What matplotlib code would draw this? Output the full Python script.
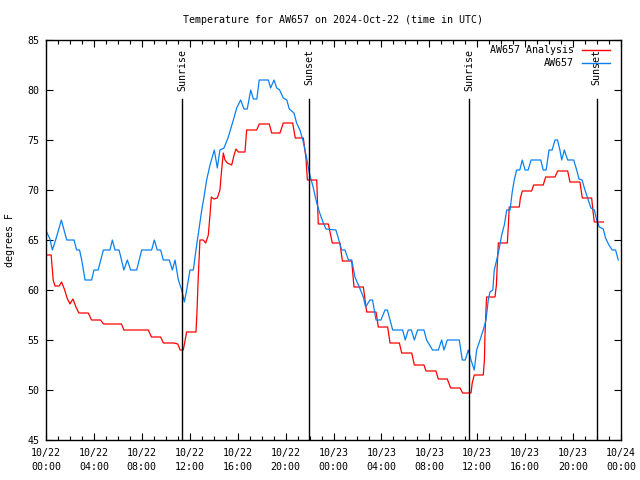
import matplotlib
matplotlib.use("Agg")
import matplotlib.pyplot as plt
from matplotlib.lines import Line2D
from matplotlib.ticker import MultipleLocator

# hours since 2024-10-22 00:00 UTC, temperature (F)
obs_hours = [0.0, 0.05, 0.33, 0.53, 0.83, 1.28, 1.73, 2.34, 2.56, 2.8, 2.98, 3.26, 3.81, 4.0, 4.35, 4.79, 5.34,
             5.54, 5.76, 6.1, 6.5, 6.79, 7.07, 7.57, 7.99, 8.82, 9.04, 9.29, 9.57, 9.79, 10.29, 10.55, 10.77,
             11.05, 11.33, 11.55, 11.74, 12.02, 12.3, 12.52, 12.8, 13.0, 13.19, 13.41, 13.69, 14.05, 14.3,
             14.52, 14.86, 15.22, 15.64, 15.92, 16.25, 16.53, 16.8, 17.09, 17.31, 17.6, 17.8, 18.56, 18.75,
             19.03, 19.26, 19.5, 19.81, 20.1, 20.31, 20.7, 20.92, 21.2, 21.48, 21.76, 21.98, 22.3, 22.6,
             22.85, 23.15, 23.37, 24.2, 24.4, 24.68, 24.96, 25.24, 25.52, 25.79, 26.15, 26.49, 26.68, 27.04,
             27.26, 27.55, 27.96, 28.3, 28.5, 28.94, 29.77, 29.99, 30.24, 30.5, 30.75, 31.02, 31.55, 31.77,
             32.27, 32.75, 33.03, 33.22, 33.5, 34.5, 34.75, 35.0, 35.25, 35.48, 35.75, 35.95, 36.23, 36.5,
             36.73, 36.92, 37.06, 37.3, 37.42, 37.62, 37.81, 38.04, 38.26, 38.46, 38.74, 38.92, 39.09, 39.29,
             39.55, 39.76, 39.99, 40.25, 40.49, 41.3, 41.51, 41.75, 41.99, 42.25, 42.49, 42.7, 42.9, 43.05,
             43.27, 43.55, 44.05, 44.3, 44.49, 44.75, 44.99, 45.21, 45.49, 45.77, 45.97, 46.19, 46.52, 46.71,
             46.99, 47.27, 47.55, 47.77]
obs_temps = [66.0, 65.8, 65.1, 64.0, 65.1, 67.0, 65.0, 65.0, 64.0, 64.0, 63.0, 61.0, 61.0, 62.0, 62.0, 64.0, 64.0,
             65.0, 64.0, 64.0, 62.0, 63.0, 62.0, 62.0, 64.0, 64.0, 65.0, 64.0, 64.0, 63.0, 63.0, 62.0, 63.0,
             61.0, 60.0, 58.8, 60.0, 62.0, 62.0, 64.0, 66.3, 68.0, 69.3, 71.0, 72.5, 74.0, 72.2,
             74.0, 74.2, 75.3, 77.0, 78.2, 79.0, 78.1, 78.1, 80.0, 79.1, 79.1, 81.0, 81.0, 80.2,
             81.0, 80.2, 80.0, 79.2, 79.0, 78.1, 77.7, 76.7, 76.0, 74.8, 73.2, 71.7, 70.3, 68.7,
             67.7, 66.7, 66.1, 66.0, 65.2, 64.0, 64.0, 63.0, 63.0, 61.3, 60.3, 59.3, 58.3, 59.0,
             59.0, 57.0, 57.0, 58.0, 58.0, 56.0, 56.0, 55.0, 56.0, 56.0, 55.0, 56.0, 56.0, 55.0,
             54.0, 54.0, 55.0, 54.0, 55.0, 55.0, 53.0, 53.0, 54.0, 53.0, 52.0, 54.0, 55.0, 56.0,
             57.0, 59.0, 59.8, 60.0, 62.0, 63.0, 64.0, 65.5, 66.5, 68.0, 68.0, 69.8, 71.0, 72.0,
             72.0, 73.0, 72.0, 72.0, 73.0, 73.0, 72.0, 72.0, 74.0, 74.0, 75.0, 75.0, 74.0, 73.0,
             74.0, 73.0, 73.0, 72.0, 71.1, 71.0, 70.0, 69.2, 68.2, 68.0, 67.0, 66.3, 66.1, 65.2,
             64.5, 64.0, 64.0, 63.0]

ana_hours = [0, 0.43, 0.6, 0.75, 1.1, 1.3, 1.56, 1.76, 2.0, 2.25, 2.5, 2.74, 3.53, 3.8, 4.56, 4.8, 6.3, 6.5,
             8.54, 8.8, 9.57, 9.8, 10.68, 11.0, 11.2, 11.46, 11.74, 12.52, 12.6, 12.69, 12.85, 13.13, 13.33,
             13.55, 13.69, 13.8, 14.02, 14.3, 14.52, 14.66, 14.8, 14.94, 15.14, 15.5, 15.7, 15.86, 16.05,
             16.61, 16.75, 17.59, 17.8, 18.64, 18.84, 19.53, 19.81, 20.59, 20.81, 21.48, 21.7, 21.82, 22.6,
             22.73, 23.57, 23.9, 24.54, 24.74, 25.52, 25.71, 26.49, 26.77, 27.55, 27.74, 28.52, 28.72, 29.5,
             29.69, 30.53, 30.75, 31.55, 31.72, 32.55, 32.75, 33.5, 33.78, 34.56, 34.78, 35.48, 35.58, 35.75,
             36.5, 36.6, 36.64, 36.73, 36.78, 37.48, 37.6, 37.65, 37.76, 38.51, 38.6, 38.67, 39.51, 39.6,
             39.76, 40.54, 40.71, 41.51, 41.71, 42.49, 42.71, 43.55, 43.74, 44.57, 44.77, 45.55, 45.65,
             45.77, 46.52]
ana_temps = [63.5, 63.5, 61.0, 60.4, 60.4, 60.8, 60.0, 59.2, 58.6, 59.1, 58.3, 57.7, 57.7, 57.0, 57.0, 56.6, 56.6, 56.0,
             56.0, 55.3, 55.3, 54.7, 54.7, 54.6, 54.0, 54.0, 55.8, 55.8, 57.7, 60.7, 65.0, 65.0, 64.7,
             65.5, 67.5, 69.3, 69.1, 69.2, 70.0, 72.0, 73.7, 73.0, 72.7, 72.5, 73.5, 74.1, 73.8,
             73.8, 76.0, 76.0, 76.6, 76.6, 75.7, 75.7, 76.7, 76.7, 75.2, 75.2, 73.2, 71.0, 71.0,
             66.6, 66.6, 64.7, 64.7, 62.9, 62.9, 60.3, 60.3, 57.8, 57.8, 56.3, 56.3, 54.7, 54.7,
             53.7, 53.7, 52.5, 52.5, 51.9, 51.9, 51.1, 51.1, 50.2, 50.2, 49.7, 49.7, 50.7, 51.5,
             51.5, 53.0, 55.3, 58.0, 59.3, 59.3, 60.5, 62.0, 64.7, 64.7, 66.5, 68.3, 68.3, 69.2,
             69.9, 69.9, 70.5, 70.5, 71.3, 71.3, 71.9, 71.9, 70.8, 70.8, 69.2, 69.2, 68.0,
             66.8, 66.8]

sun_hours = [11.38, 21.98, 35.34, 45.97]
sun_labels = ["Sunrise", "Sunset", "Sunrise", "Sunset"]

xtick_hours = list(range(0, 49, 4))
xtick_labels = ["10/22\n00:00", "10/22\n04:00", "10/22\n08:00", "10/22\n12:00", "10/22\n16:00",
                "10/22\n20:00", "10/23\n00:00", "10/23\n04:00", "10/23\n08:00", "10/23\n12:00",
                "10/23\n16:00", "10/23\n20:00", "10/24\n00:00"]
series_names = ["AW657 Analysis", "AW657"]
series_colors = ["#ff0000", "#0a80f0"]

FONT = "DejaVu Sans Mono"
FS = 7.2
plt.rcParams["font.family"] = FONT

fig = plt.figure(figsize=(6.4, 4.8), dpi=100)
ax = fig.add_axes([46/640, 1-440/480, 575/640, 400/480])

ax.plot(ana_hours, ana_temps, color=series_colors[0], lw=0.9)
ax.plot(obs_hours, obs_temps, color=series_colors[1], lw=0.9)

for h, lab in zip(sun_hours, sun_labels):
    ax.plot([h, h], [79.1, 45], color="black", lw=1.0)
    ax.text(h, 84.1, lab, rotation=90, ha="center", va="top", fontsize=FS, family=FONT)

ax.set_xlim(0, 48)
ax.set_ylim(45, 85)
ax.set_xticks(xtick_hours)
ax.set_xticklabels(xtick_labels, fontsize=FS, linespacing=1.5)
ax.xaxis.set_minor_locator(MultipleLocator(1))
ax.yaxis.set_major_locator(MultipleLocator(5))
ax.tick_params(axis="both", which="major", direction="in", length=5, width=0.8,
               top=True, right=True, labelsize=FS)
ax.tick_params(axis="x", which="major", pad=5.5)
ax.tick_params(axis="y", which="major", pad=4.5)
ax.tick_params(axis="x", which="minor", direction="in", length=3, width=0.8, top=True)
for s in ax.spines.values():
    s.set_linewidth(1.0)

# legend (text right-aligned, sample line to the right)
for i, (name, col) in enumerate(zip(series_names, series_colors)):
    yy = 1 - (10 + 13*i) / 400
    ax.text(1 - 47/575, yy, name, ha="right", va="center", fontsize=FS,
            transform=ax.transAxes)
    ax.add_line(Line2D([1 - 39/575, 1 - 11/575], [yy, yy], color=col, lw=1.0,
                       transform=ax.transAxes, clip_on=False))

fig.text(333/640, 1 - 20/480, "Temperature for AW657 on 2024-Oct-22 (time in UTC)",
         ha="center", va="center", fontsize=FS)
fig.text(10/640, 240/480, "degrees F", rotation=90, ha="center", va="center", fontsize=FS)

fig.savefig("out.png", dpi=100)
